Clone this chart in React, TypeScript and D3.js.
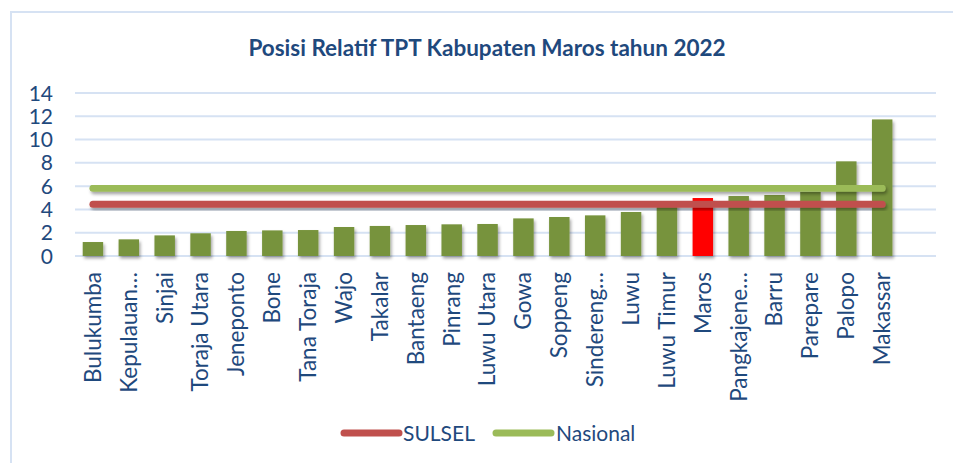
import React from "react";
import * as d3 from "d3";

const categories = [
  "Bulukumba", "Kepulauan…", "Sinjai", "Toraja Utara", "Jeneponto", "Bone",
  "Tana Toraja", "Wajo", "Takalar", "Bantaeng", "Pinrang", "Luwu Utara",
  "Gowa", "Soppeng", "Sindereng…", "Luwu", "Luwu Timur", "Maros",
  "Pangkajene…", "Barru", "Parepare", "Palopo", "Makassar",
];
const tptValues = [
  1.2, 1.43, 1.77, 1.95, 2.15, 2.2, 2.23, 2.49, 2.58, 2.66, 2.72, 2.75,
  3.23, 3.35, 3.49, 3.78, 4.5, 4.98, 5.15, 5.24, 5.52, 8.13, 11.73,
];
const sulselValue = 4.44;
const nasionalValue = 5.81;
const yTicks = [0, 2, 4, 6, 8, 10, 12, 14];
const highlight = "Maros";
const title = "Posisi Relatif TPT Kabupaten Maros tahun 2022";

const W = 953;
const H = 463;
const FONT = "Lato, 'Open Sans', sans-serif";
const TEXT = "#1F497D";

export default function App() {
  const bandDomain = [...categories, "__empty__"];
  const x = d3.scaleBand<string>().domain(bandDomain).range([75, 936]).paddingInner(0.43).paddingOuter(0.215);
  const xc = (c: string) => (x(c) ?? 0) + x.bandwidth() / 2;
  const y = d3.scaleLinear().domain([0, 14]).range([256, 93]);

  const lineGen = d3
    .line<number>()
    .x((_, i) => xc(categories[i]))
    .y((d) => y(d));

  const sulselSeries = categories.map(() => sulselValue);
  const nasionalSeries = categories.map(() => nasionalValue);

  return (
    <svg width={W} height={H} style={{ position: "absolute", left: 0, top: 0, display: "block" }}>
      <defs>
        <filter id="sh" x="-20%" y="-20%" width="140%" height="160%">
          <feDropShadow dx="1.5" dy="2.5" stdDeviation="1.8" floodColor="#000" floodOpacity="0.35" />
        </filter>
      </defs>
      <rect x={0} y={0} width={W} height={H} fill="#fff" />
      <rect x={11} y={12} width={W} height={H} fill="#fff" stroke="#D6E2F3" strokeWidth={2} />
      <text x={487} y={56} textAnchor="middle" fontFamily={FONT} fontWeight={700} fontSize={22.5} fill={TEXT}>
        {title}
      </text>
      {yTicks.map((t) => (
        <g key={t}>
          <line x1={75} x2={936} y1={y(t)} y2={y(t)} stroke="#D6E2F3" strokeWidth={2} />
          <text x={53} y={y(t)} dy="0.36em" textAnchor="end" fontFamily={FONT} fontSize={21} fill={TEXT}>
            {t}
          </text>
        </g>
      ))}
      <g filter="url(#sh)">
        {categories.map((c, i) => (
          <rect
            key={c}
            x={x(c)}
            y={y(tptValues[i])}
            width={x.bandwidth()}
            height={y(0) - y(tptValues[i])}
            fill={c === highlight ? "#FF0000" : "#77933C"}
          />
        ))}
      </g>
      <g filter="url(#sh)">
        <path d={lineGen(sulselSeries) ?? ""} fill="none" stroke="#C0504D" strokeWidth={7} strokeLinecap="round" />
        <path d={lineGen(nasionalSeries) ?? ""} fill="none" stroke="#9BBB59" strokeWidth={7} strokeLinecap="round" />
      </g>
      {categories.map((c) => (
        <text
          key={c}
          transform={`translate(${xc(c)},272) rotate(-90)`}
          dy="0.35em"
          textAnchor="end"
          fontFamily={FONT}
          fontSize={22.5}
          fill={TEXT}
        >
          {c}
        </text>
      ))}
      <g>
        <line x1={344} x2={399} y1={433} y2={433} stroke="#C0504D" strokeWidth={7} strokeLinecap="round" />
        <text x={403} y={433} dy="0.36em" fontFamily={FONT} fontSize={21} fill={TEXT}>SULSEL</text>
        <line x1={496} x2={551} y1={433} y2={433} stroke="#9BBB59" strokeWidth={7} strokeLinecap="round" />
        <text x={556} y={433} dy="0.36em" fontFamily={FONT} fontSize={21} fill={TEXT}>Nasional</text>
      </g>
    </svg>
  );
}
